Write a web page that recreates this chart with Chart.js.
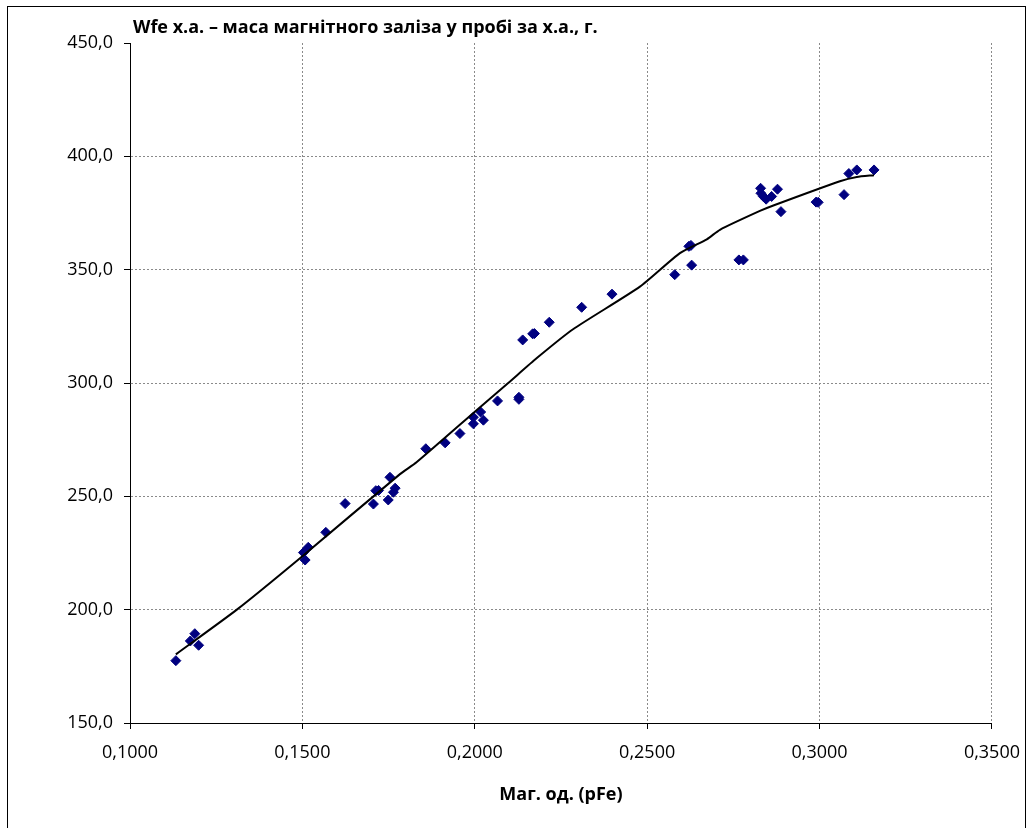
<!DOCTYPE html>
<html>
<head>
<meta charset="utf-8">
<script src="https://cdn.jsdelivr.net/npm/chart.js@4.4.1/dist/chart.umd.min.js"></script>
<style>
  html, body { margin: 0; padding: 0; background: #fff; }
  #wrap { position: relative; width: 1033px; height: 828px; overflow: hidden; }
  #wrap canvas { position: absolute; left: 0; top: 0; }
  #frame { position: absolute; left: 7px; top: 6px; width: 1019px; height: 840px;
           border: 1px solid #000; box-sizing: border-box; pointer-events: none; }
</style>
</head>
<body>
<div id="wrap">
  <canvas id="magChart" width="1033" height="828"></canvas>
  <div id="frame"></div>
</div>
<script>
// measured points: magnetic units (pFe) vs Wfe mass
const pFe = [
  0.1133, 0.1175, 0.1188, 0.1199,
  0.1503, 0.1508, 0.1517, 0.1568, 0.1624,
  0.1706, 0.1713, 0.1721, 0.1749, 0.1754, 0.1764, 0.1769,
  0.1858, 0.1914, 0.1957, 0.1996, 0.1996, 0.2017, 0.2025, 0.2066,
  0.2128, 0.2128, 0.2139, 0.2168, 0.2173, 0.2216, 0.2310, 0.2398,
  0.2580, 0.2621, 0.2627, 0.2629, 0.2766, 0.2779,
  0.2829, 0.2830, 0.2837, 0.2845, 0.2861, 0.2878, 0.2888,
  0.2990, 0.2996, 0.3071, 0.3085, 0.3108, 0.3158
];
const wfe = [
  177.5, 186.2, 189.4, 184.3,
  225.2, 221.9, 227.5, 234.1, 246.8,
  246.6, 252.5, 252.6, 248.4, 258.4, 251.8, 253.6,
  271.0, 273.6, 277.7, 282.0, 284.9, 287.2, 283.6, 292.1,
  293.7, 292.8, 319.0, 321.7, 321.8, 326.8, 333.4, 339.2,
  347.8, 360.3, 360.7, 352.0, 354.3, 354.3,
  385.9, 383.7, 382.3, 381.1, 382.3, 385.5, 375.6,
  379.8, 379.7, 383.1, 392.4, 394.0, 394.0
];

// trend line
const trendX = [0.1133, 0.1309, 0.1493, 0.1783, 0.1831, 0.2006, 0.2097, 0.2180, 0.2285,
                0.2479, 0.2595, 0.2673, 0.2711, 0.2827, 0.2866, 0.3059, 0.3108, 0.3158];
const trendY = [180.3, 199.9, 222.7, 259.8, 265.0, 288.1, 300.0, 311.0, 323.7,
                342.5, 357.3, 363.4, 367.6, 375.9, 378.3, 389.0, 390.9, 391.7];

const xTickLabels = ['0,1000', '0,1500', '0,2000', '0,2500', '0,3000', '0,3500'];
const yTickLabels = ['150,0', '200,0', '250,0', '300,0', '350,0', '400,0', '450,0'];

const chartTitle = 'Wfe х.а. – маса магнітного заліза у пробі за х.а., г.';
const xTitle = 'Маг. од. (pFe)';

const fontFamily = '"Open Sans", "DejaVu Sans", sans-serif';
const tickFont = { family: fontFamily, size: 18 };

const cornerTitle = {
  id: 'cornerTitle',
  afterDraw(chart) {
    const { ctx, chartArea } = chart;
    ctx.save();
    ctx.font = 'bold 18px ' + fontFamily;
    ctx.fillStyle = '#000';
    ctx.textBaseline = 'alphabetic';
    ctx.fillText(chartTitle, chartArea.left + 3, 33);
    ctx.restore();
  }
};

new Chart(document.getElementById('magChart'), {
  type: 'scatter',
  data: {
    datasets: [
      {
        label: 'trend',
        data: trendX.map((x, i) => ({ x, y: trendY[i] })),
        showLine: true,
        borderColor: '#000',
        borderWidth: 2,
        pointRadius: 0,
        tension: 0.2,
        order: 0,
      },
      {
        label: 'Wfe',
        data: pFe.map((x, i) => ({ x, y: wfe[i] })),
        pointStyle: 'rectRot',
        pointRadius: 5,
        backgroundColor: '#000080',
        borderColor: '#000080',
        borderWidth: 1,
        order: 1,
      },
    ],
  },
  options: {
    responsive: false,
    animation: false,
    devicePixelRatio: 1,
    layout: { padding: { left: 0, top: 43, right: 41, bottom: 0 } },
    plugins: { legend: { display: false }, tooltip: { enabled: false } },
    scales: {
      x: {
        type: 'linear',
        min: 0.1,
        max: 0.35,
        afterFit: (s) => { s.height = 105; },
        ticks: {
          stepSize: 0.05,
          color: '#000',
          font: tickFont,
          padding: 13,
          maxRotation: 0,
          callback: (v, i) => xTickLabels[i],
        },
        grid: { color: '#8a8a8a', tickColor: '#000', tickLength: 6, lineWidth: 1 },
        border: { color: '#000', width: 1, dash: [2, 2] },
        title: {
          display: true,
          text: xTitle,
          color: '#000',
          font: { family: fontFamily, size: 18, weight: 'bold' },
          padding: { top: 0, bottom: 22 },
        },
      },
      y: {
        type: 'linear',
        min: 150,
        max: 450,
        afterFit: (s) => { s.width = 130; },
        ticks: {
          stepSize: 50,
          color: '#000',
          font: tickFont,
          padding: 11,
          callback: (v, i) => yTickLabels[i],
        },
        grid: {
          color: (c) => (c.tick && c.tick.value === 450 ? 'rgba(0,0,0,0)' : '#8a8a8a'),
          tickColor: '#000',
          tickLength: 6,
          lineWidth: 1,
        },
        border: { color: '#000', width: 1, dash: [2, 2] },
      },
    },
  },
  plugins: [cornerTitle],
});
</script>
</body>
</html>
